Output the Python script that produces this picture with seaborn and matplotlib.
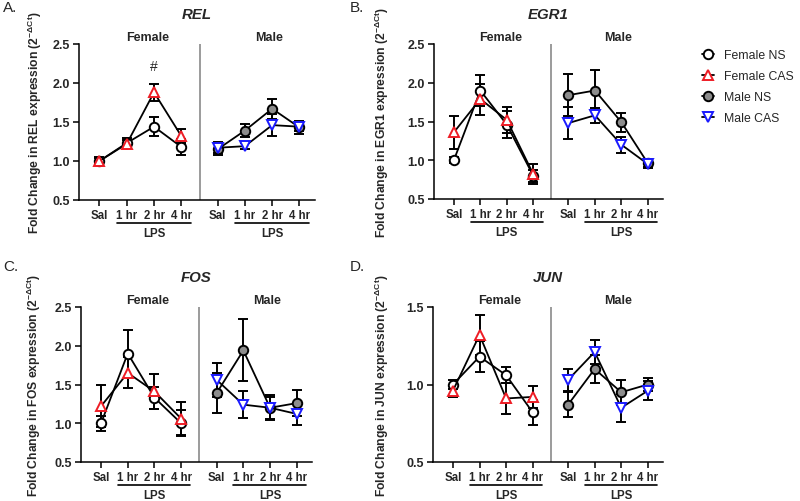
import matplotlib
matplotlib.use("Agg")
import matplotlib.pyplot as plt
import matplotlib.transforms as mtransforms
import seaborn as sns
import pandas as pd

# ---- data (mean fold change and SEM, order: Sal, 1 hr, 2 hr, 4 hr) ----
timepoints = ["Sal", "1 hr", "2 hr", "4 hr"]
sexes = ["Female", "Male"]
groups = ["Female NS", "Female CAS", "Male NS", "Male CAS"]
genes = ["REL", "EGR1", "FOS", "JUN"]
panel_letters = ["A.", "B.", "C.", "D."]

rel_mean = {"Female NS": [1.00, 1.23, 1.44, 1.18], "Female CAS": [1.00, 1.22, 1.88, 1.32],
            "Male NS": [1.15, 1.39, 1.67, 1.43], "Male CAS": [1.17, 1.19, 1.46, 1.44]}
rel_err = {"Female NS": [0.05, 0.06, 0.12, 0.10], "Female CAS": [0.04, 0.05, 0.11, 0.09],
           "Male NS": [0.07, 0.08, 0.13, 0.08], "Male CAS": [0.07, 0.04, 0.14, 0.06]}

egr1_mean = {"Female NS": [1.00, 1.90, 1.46, 0.80], "Female CAS": [1.36, 1.79, 1.52, 0.82],
             "Male NS": [1.84, 1.90, 1.49, 0.96], "Male CAS": [1.48, 1.58, 1.20, 0.95]}
egr1_err = {"Female NS": [0.04, 0.20, 0.17, 0.08], "Female CAS": [0.21, 0.20, 0.17, 0.13],
            "Male NS": [0.27, 0.27, 0.12, 0.05], "Male CAS": [0.21, 0.10, 0.10, 0.05]}

fos_mean = {"Female NS": [1.00, 1.90, 1.33, 1.00], "Female CAS": [1.22, 1.65, 1.41, 1.06],
            "Male NS": [1.39, 1.94, 1.20, 1.26], "Male CAS": [1.56, 1.24, 1.20, 1.12]}
fos_err = {"Female NS": [0.10, 0.30, 0.14, 0.17], "Female CAS": [0.27, 0.20, 0.22, 0.21],
           "Male NS": [0.26, 0.40, 0.16, 0.17], "Male CAS": [0.22, 0.17, 0.14, 0.14]}

jun_mean = {"Female NS": [1.00, 1.18, 1.06, 0.82], "Female CAS": [0.96, 1.32, 0.91, 0.92],
            "Male NS": [0.87, 1.10, 0.95, 1.00], "Male CAS": [1.03, 1.21, 0.85, 0.96]}
jun_err = {"Female NS": [0.03, 0.10, 0.05, 0.08], "Female CAS": [0.04, 0.13, 0.10, 0.07],
           "Male NS": [0.08, 0.09, 0.08, 0.04], "Male CAS": [0.07, 0.08, 0.09, 0.06]}

y_ticks = {"REL": [0.5, 1.0, 1.5, 2.0, 2.5], "EGR1": [0.5, 1.0, 1.5, 2.0, 2.5],
           "FOS": [0.5, 1.0, 1.5, 2.0, 2.5], "JUN": [0.5, 1.0, 1.5]}

# marker styles per group
styles = {
    "Female NS": dict(marker="o", mfc="white", mec="black", ms=6.8),
    "Female CAS": dict(marker="^", mfc="white", mec="#ee1c25", ms=6.8),
    "Male NS": dict(marker="o", mfc="#8c8c8c", mec="black", ms=6.8),
    "Male CAS": dict(marker="v", mfc="white", mec="#1a1aff", ms=6.8),
}

sns.set_theme(style="ticks")
plt.rcParams["font.family"] = ["Liberation Sans", "DejaVu Sans"]
plt.rcParams["mathtext.default"] = "regular"

fig = plt.figure(figsize=(8, 5.02), dpi=100)
W, H = 800, 502


def px_axes(left, top, right, bottom):
    return fig.add_axes([left / W, 1 - bottom / H, (right - left) / W, (bottom - top) / H])


# axes boxes in pixels and y-label right-edge x
boxes = [(79, 45, 315, 201), (434, 45, 663, 200), (81, 308, 312, 463), (433, 308, 663, 463)]
ylabel_right = [44, 391, 43, 391]
letter_pos = [(3, 8), (350, 8), (3, 267), (350, 267)]

means = [rel_mean, egr1_mean, fos_mean, jun_mean]
errs = [rel_err, egr1_err, fos_err, jun_err]

male_offset = 4.33
sex_offset = {"Female": 0.0, "Male": male_offset}
divider_x = 3.67

legend_handles = None
for i, gene in enumerate(genes):
    left, top, right, bottom = boxes[i]
    ax = px_axes(left, top, right, bottom)
    mean_d, err_d = means[i], errs[i]

    for grp in groups:
        sex = grp.split()[0]
        pos = [k + sex_offset[sex] for k in range(len(timepoints))]
        df = pd.DataFrame({"pos": pos, "val": mean_d[grp], "err": err_d[grp]})
        ax.errorbar(df["pos"], df["val"], yerr=df["err"], fmt="none", ecolor="black",
                    elinewidth=1.4, capsize=3.8, capthick=1.4, zorder=3)
        st = styles[grp]
        sns.lineplot(data=df, x="pos", y="val", ax=ax, color="black", linewidth=1.3,
                     marker=st["marker"], markerfacecolor=st["mfc"], markeredgecolor=st["mec"],
                     markersize=st["ms"], markeredgewidth=1.4, label=grp, zorder=4)

    if i == 0:
        legend_handles, legend_labels = ax.get_legend_handles_labels()
    ax.get_legend().remove()

    # divider between sexes
    ax.axvline(divider_x, color="#808080", lw=1.1, zorder=1)

    ax.set_xlim(-0.75, 7.9)
    ax.set_ylim(y_ticks[gene][0], y_ticks[gene][-1])
    ax.set_yticks(y_ticks[gene])
    ax.set_yticklabels([f"{v:.1f}" for v in y_ticks[gene]], fontweight="bold", fontsize=9)
    xt = [k + sex_offset[s] for s in sexes for k in range(len(timepoints))]
    ax.set_xticks(xt)
    ax.set_xticklabels(timepoints * 2, fontweight="bold", fontsize=8.3)
    ax.set_xlabel("")
    ax.tick_params(axis="both", length=4, width=1.1, color="black", pad=2.5)
    sns.despine(ax=ax)
    for sp in ["left", "bottom"]:
        ax.spines[sp].set_linewidth(1.1)
        ax.spines[sp].set_color("black")

    ax.set_ylabel(f"Fold Change in {gene} expression (2$^{{-\\Delta Ct}}$)",
                  fontsize=8.7, fontweight="bold")
    ax.yaxis.set_label_coords((ylabel_right[i] - left) / (right - left), 0.5)

    hgt = bottom - top
    ax.text(0.5, 1 + 30 / hgt, gene, transform=ax.transAxes, ha="center", va="center",
            fontsize=10.8, fontweight="bold", fontstyle="italic")

    trans = mtransforms.blended_transform_factory(ax.transData, ax.transAxes)
    for s, hx in zip(sexes, [1.75, 6.2]):
        ax.text(hx, 1 + 7 / hgt, s, transform=trans, ha="center", va="center",
                fontsize=9, fontweight="bold")
        off = sex_offset[s]
        ax.plot([off + 1 - 0.37, off + 3 + 0.35], [-23 / hgt, -23 / hgt], transform=trans,
                color="black", lw=1.2, clip_on=False)
        ax.text(off + 2, -33 / hgt, "LPS", transform=trans, ha="center", va="center",
                fontsize=8.3, fontweight="bold")

    if gene == "REL":
        ax.text(2, 2.22, "#", ha="center", va="center", fontsize=10)

    lx, ly = letter_pos[i]
    fig.text(lx / W, 1 - ly / H, panel_letters[i], ha="left", va="center", fontsize=11)

fig.legend(legend_handles, legend_labels, loc="upper left",
           bbox_to_anchor=(691 / W, 1 - 39 / H), frameon=False, fontsize=8.8,
           handlelength=1.0, labelspacing=0.75, handletextpad=0.8)

fig.savefig("out.png", dpi=100)
